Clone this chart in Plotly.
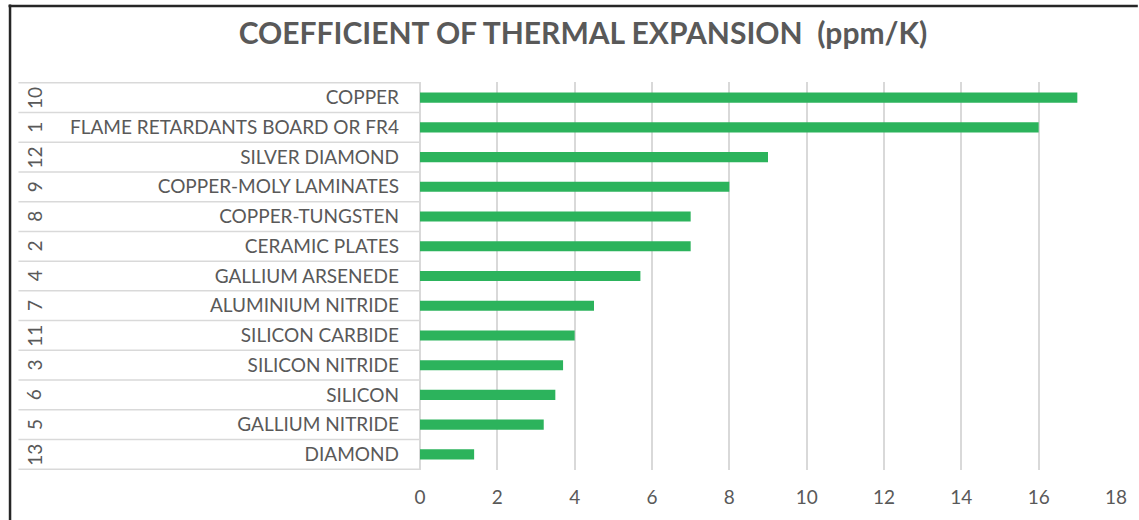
import plotly.graph_objects as go

materials = ["COPPER", "FLAME RETARDANTS BOARD OR FR4", "SILVER DIAMOND",
             "COPPER-MOLY LAMINATES", "COPPER-TUNGSTEN", "CERAMIC PLATES",
             "GALLIUM ARSENEDE", "ALUMINIUM NITRIDE", "SILICON CARBIDE",
             "SILICON NITRIDE", "SILICON", "GALLIUM NITRIDE", "DIAMOND"]
ids = ["10", "1", "12", "9", "8", "2", "4", "7", "11", "3", "6", "5", "13"]
cte = [17, 16, 9, 8, 7, 7, 5.7, 4.5, 4.0, 3.7, 3.5, 3.2, 1.4]
x_ticks = [0, 2, 4, 6, 8, 10, 12, 14, 16, 18]

W, H = 1139, 520
ML, MR, MT, MB = 420, 17, 82, 48
PW, PH = W - ML - MR, H - MT - MB

def px_to_paper_x(px):
    return (px - ML) / PW

def px_to_paper_y(py):
    return 1 - (py - MT) / PH

TXT = "#595959"
GRID = "#d9d9d9"
FONT = "Lato, 'Open Sans', sans-serif"

fig = go.Figure(go.Bar(
    x=cte, y=materials, orientation="h",
    marker=dict(color="#2cb35c", line=dict(width=0)),
    hoverinfo="x+y",
))

shapes = []
# row separators in label area
n = len(materials)
for i in range(n + 1):
    yv = i - 0.5
    shapes.append(dict(type="line", xref="paper", yref="y",
                       x0=px_to_paper_x(15), x1=0, y0=yv, y1=yv,
                       line=dict(color=GRID, width=1.5), layer="below"))
# outer border (left and top)
shapes.append(dict(type="line", xref="paper", yref="paper",
                   x0=px_to_paper_x(6.5), x1=px_to_paper_x(6.5),
                   y0=px_to_paper_y(4), y1=px_to_paper_y(H + 5),
                   line=dict(color="#262626", width=2.5)))
shapes.append(dict(type="line", xref="paper", yref="paper",
                   x0=px_to_paper_x(5), x1=px_to_paper_x(W + 5),
                   y0=px_to_paper_y(5.5), y1=px_to_paper_y(5.5),
                   line=dict(color="#262626", width=2.5)))

annotations = []
for name, num in zip(materials, ids):
    annotations.append(dict(x=px_to_paper_x(31), xref="paper", y=name, yref="y",
                            text=num, showarrow=False, textangle=-90,
                            xanchor="center", yanchor="middle",
                            font=dict(family=FONT, size=19, color=TXT)))

fig.update_layout(
    width=W, height=H,
    margin=dict(l=ML, r=MR, t=MT, b=MB, pad=0),
    paper_bgcolor="white", plot_bgcolor="white",
    title=dict(text="<b>COEFFICIENT OF THERMAL EXPANSION  (ppm/K)</b>",
               x=583 / W, xref="container", xanchor="center",
               y=1 - 33 / H, yref="container", yanchor="middle",
               font=dict(family=FONT, size=30, color=TXT)),
    bargap=0.66,
    showlegend=False,
    xaxis=dict(range=[0, 18], tickvals=x_ticks, showgrid=True, gridcolor=GRID,
               gridwidth=1.5, zeroline=True, zerolinecolor=GRID, zerolinewidth=1.5,
               showline=False, ticks="", ticklabelstandoff=14,
               tickfont=dict(family=FONT, size=19, color=TXT), fixedrange=True),
    yaxis=dict(categoryorder="array", categoryarray=materials, autorange="reversed",
               showgrid=False, zeroline=False, showline=False, ticks="",
               ticklabelstandoff=20,
               tickfont=dict(family=FONT, size=19, color=TXT), fixedrange=True),
    shapes=shapes, annotations=annotations,
)

fig.write_html("out.html")
